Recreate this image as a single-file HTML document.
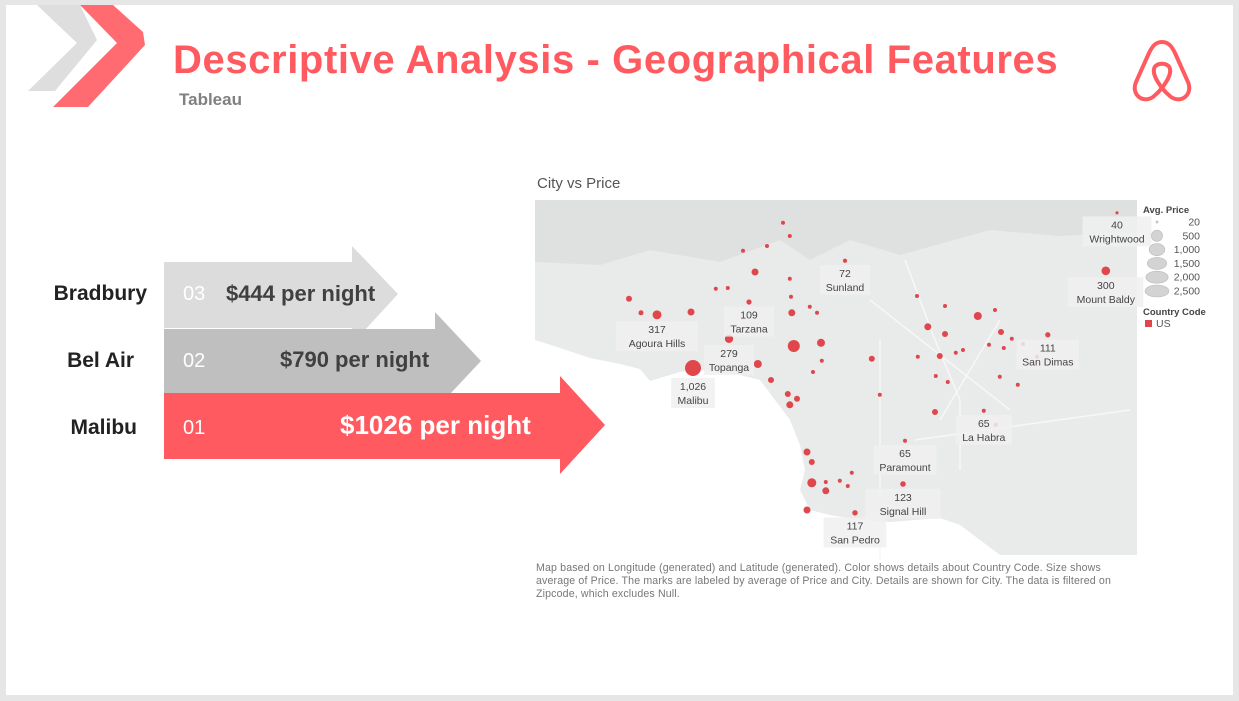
<!DOCTYPE html>
<html><head><meta charset="utf-8"><style>
body{margin:0;width:1239px;height:701px;background:#e6e6e6;font-family:"Liberation Sans",sans-serif;overflow:hidden;position:relative}
.slide{position:absolute;left:6px;top:5px;width:1227px;height:690px;background:#fff}
.abs{position:absolute}
</style></head><body>
<div class="slide"></div>
<div class="abs" style="left:537px;top:175px;font-size:15px;color:#555">City vs Price</div>
<svg id="map" class="abs" style="left:0;top:0" width="1239" height="701"></svg>
<div class="abs" style="left:536px;top:562px;width:598px;font-size:10.6px;line-height:13px;color:#777;letter-spacing:0.15px">Map based on Longitude (generated) and Latitude (generated). Color shows details about Country Code. Size shows average of Price. The marks are labeled by average of Price and City. Details are shown for City. The data is filtered on Zipcode, which excludes Null.</div>
<svg class="abs" style="left:0;top:0" width="1239" height="701">
 <polygon points="37,5 80,5 97,40 55,91 28,91 77,43" fill="#dedede"/>
 <polygon points="80,5 113,5 143,32 145,45 88,107 53,107 117,43" fill="#ff6b70"/>
 <g fill="none" stroke="#ff5a5f" stroke-width="4">
  <path d="M1162,42 C1155,42 1152,47 1149,53 L1136,82 C1131,94 1142,104 1153,97 C1158,93 1162,88 1162,88 C1162,88 1166,93 1171,97 C1182,104 1193,94 1188,82 L1175,53 C1172,47 1169,42 1162,42 Z"/>
  <path d="M1162,88 C1156,80 1153,74 1154,69 C1155,62 1169,62 1170,69 C1171,74 1168,80 1162,88 Z"/>
 </g>
 <polygon points="164,262 352,262 352,246 398,294 352,344 352,328 164,328" fill="#dcdcdc"/>
 <polygon points="164,329 435,329 435,312 481,361 435,410 435,394 164,394" fill="#bfbfbf"/>
 <polygon points="164,393 560,393 560,376 605,425 560,474 560,459 164,459" fill="#ff5a5f"/>
</svg>
<div class="abs" style="left:173px;top:38px;font-size:40px;font-weight:bold;color:#ff5a5f;letter-spacing:0.6px">Descriptive Analysis - Geographical Features</div>
<div class="abs" style="left:179px;top:90px;font-size:17px;font-weight:bold;color:#808080">Tableau</div>

<div class="abs" style="left:0;width:147px;text-align:right;top:282px;font-size:21px;font-weight:bold;color:#222">Bradbury</div>
<div class="abs" style="left:0;width:134px;text-align:right;top:349px;font-size:21px;font-weight:bold;color:#222">Bel Air</div>
<div class="abs" style="left:0;width:137px;text-align:right;top:416px;font-size:21px;font-weight:bold;color:#222">Malibu</div>
<div class="abs" style="left:183px;top:283px;font-size:20px;color:#fff">03</div>
<div class="abs" style="left:183px;top:350px;font-size:20px;color:#fff">02</div>
<div class="abs" style="left:183px;top:417px;font-size:20px;color:#fff">01</div>
<div class="abs" style="left:226px;top:281px;font-size:22px;font-weight:bold;color:#404040">$444 per night</div>
<div class="abs" style="left:280px;top:347px;font-size:22px;font-weight:bold;color:#404040">$790 per night</div>
<div class="abs" style="left:340px;top:410px;font-size:26px;font-weight:bold;color:#fff">$1026 per night</div>
<script>
const cities=["Malibu","Agoura Hills","Topanga","Tarzana","Sunland","Wrightwood","Mount Baldy","San Dimas","La Habra","Paramount","Signal Hill","San Pedro"];
const cityLon=[-118.555,-118.645,-118.465,-118.415,-118.175,-117.495,-117.523,-117.668,-117.828,-118.025,-118.03,-118.15];
const cityLat=[34.08,34.213,34.153,34.245,34.348,34.468,34.323,34.163,33.973,33.898,33.79,33.718];
const cityPrice=[1026,317,279,109,72,40,300,111,65,65,123,117];
const otherLon=[-118.715,-118.685,-118.56,-118.498,-118.468,-118.43,-118.40,-118.37,-118.33,-118.313,-118.313,-118.31,-118.308,-118.263,-118.245,-118.303,-118.235,-118.393,-118.36,-118.318,-118.313,-118.295,-118.255,-118.233,-118.108,-118.088,-117.995,-117.925,-117.843,-117.968,-117.925,-117.898,-117.88,-117.938,-117.993,-117.80,-117.815,-117.778,-117.785,-117.758,-117.73,-117.918,-117.788,-117.743,-117.695,-117.95,-117.798,-117.948,-118.27,-118.258,-118.158,-118.223,-118.188,-118.168,-118.258,-118.223,-118.27];
const otherLat=[34.253,34.218,34.22,34.278,34.28,34.373,34.32,34.385,34.443,34.41,34.303,34.258,34.218,34.233,34.218,34.135,34.143,34.09,34.05,34.015,33.988,34.003,34.07,34.098,34.103,34.013,34.26,34.235,34.21,34.183,34.165,34.118,34.125,34.11,34.108,34.225,34.138,34.13,34.17,34.153,34.14,34.045,34.058,34.038,34.108,33.97,33.938,34.06,33.87,33.845,33.818,33.795,33.798,33.785,33.793,33.773,33.725];
const otherPrice=[144,100,196,64,64,64,196,64,64,64,64,64,196,64,64,577,256,256,144,144,196,144,64,64,144,64,64,64,256,196,144,64,64,144,64,64,64,64,144,64,64,64,64,64,64,144,64,64,196,144,64,64,64,64,325,196,196];
const legendVals=[20,500,1000,1500,2000,2500];
const NS="http://www.w3.org/2000/svg";
const svg=document.getElementById('map');
function X(lon){return 535+(lon+118.95)*400;}
function Y(lat){return 200+(34.5-lat)*400;}
function R(p){return 8*Math.sqrt(p/1026);}
function mk(tag,attrs,parent){const e=document.createElementNS(NS,tag);for(const k in attrs)e.setAttribute(k,attrs[k]);(parent||svg).appendChild(e);return e;}
const bg=mk('rect',{x:535,y:200,width:602,height:355,fill:'#e9eaea'});


const mt=mk('path',{d:'M535,200 L1137,200 L1137,232 L1060,236 L990,230 L900,255 L850,240 L810,260 L780,240 L720,262 L650,250 L600,265 L535,262 Z',fill:'#dfe0e0'});


const ocean=mk('path',{d:'M535,340 L560,348 L590,358 L620,364 L640,369 L650,381 L680,372 L700,370 L740,375 L760,380 L775,400 L790,420 L800,445 L805,470 L800,490 L810,510 L830,515 L860,520 L890,522 L940,518 L960,525 L980,540 L1000,555 L535,555 Z',fill:'#ffffff'});


const roads=mk('path',{d:'M880,340 L880,560 M905,260 L935,340 L960,400 L960,470 M1000,320 L940,420 M870,300 L1010,410 M915,440 L1130,410',stroke:'#f7f7f7','stroke-width':1.5,fill:'none'});


for(let i=0;i<otherLon.length;i++){
 const c=mk('circle',{cx:X(otherLon[i]),cy:Y(otherLat[i]),r:R(otherPrice[i]),fill:'#e0474c'});
 
 
}
for(let i=0;i<cities.length;i++){
 const x=X(cityLon[i]),y=Y(cityLat[i]);
 const c=mk('circle',{cx:x,cy:y,r:R(cityPrice[i]),fill:'#e0474c'});
 
 
 const w=Math.max(cities[i].length*6.3+6,36);
 const b=mk('rect',{x:x-w/2,y:y+R(cityPrice[i])+2,width:w,height:30,fill:'#f0f0f0',opacity:0.85});
 
 
 const t1=mk('text',{x:x,y:y+R(cityPrice[i])+14,'text-anchor':'middle','font-size':10.5,fill:'#444','font-family':'Liberation Sans, sans-serif'});
 t1.textContent=cityPrice[i].toLocaleString('en-US');
 
 
 const t2=mk('text',{x:x,y:y+R(cityPrice[i])+28,'text-anchor':'middle','font-size':10.5,fill:'#444','font-family':'Liberation Sans, sans-serif'});
 t2.textContent=cities[i];
 
 
}
const lt=mk('text',{x:1143,y:213,'font-size':9.5,'font-weight':'bold',fill:'#444','font-family':'Liberation Sans, sans-serif'});
lt.textContent='Avg. Price';


legendVals.forEach((v,i)=>{
 const y=222+i*13.8;
 const r=Math.max(R(v),1);
 const e=mk('ellipse',{cx:1157,cy:y,rx:Math.min(r,12),ry:Math.min(r,6),fill:'#d3d3d3',stroke:'#bbb','stroke-width':0.6});
 
 
 const t=mk('text',{x:1200,y:y+3.5,'text-anchor':'end','font-size':10.5,fill:'#555','font-family':'Liberation Sans, sans-serif'});
 t.textContent=v.toLocaleString('en-US');
 
 
});
const ct=mk('text',{x:1143,y:315,'font-size':9.5,'font-weight':'bold',fill:'#444','font-family':'Liberation Sans, sans-serif'});
ct.textContent='Country Code';


const cs=mk('rect',{x:1145,y:320,width:7,height:7,fill:'#e0474c'});


const cl=mk('text',{x:1156,y:327,'font-size':10.5,fill:'#555','font-family':'Liberation Sans, sans-serif'});
cl.textContent='US';


</script>
</body></html>
